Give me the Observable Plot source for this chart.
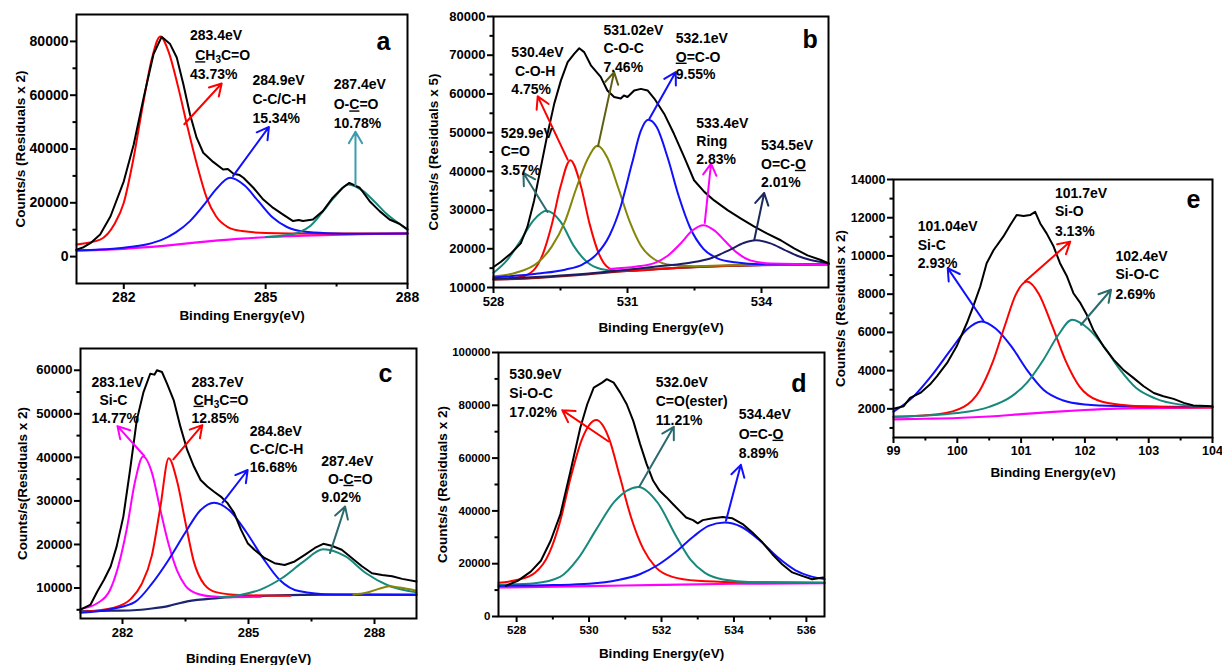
<!DOCTYPE html>
<html><head><meta charset="utf-8">
<script src="https://cdn.jsdelivr.net/npm/d3@7"></script>
<script src="https://cdn.jsdelivr.net/npm/@observablehq/plot@0.6"></script>
<style>
body{margin:0;background:#fff;}
#root{position:relative;width:1222px;height:665px;overflow:hidden;font-family:Arial,"Liberation Sans",sans-serif;}
.panel{position:absolute;}
</style></head><body><div id="root"></div>
<script>
// ================= DATA =================
const xTitle = "Binding Energy(eV)";

// ---- panel a (C 1s) ----
const aSpectrum = [[281.0,2600],[281.15,3500],[281.3,5100],[281.5,8200],[281.72,15000],[282.0,28000],[282.21,41700],[282.42,59100],[282.63,75300],[282.8,81700],[282.98,79000],[283.12,74000],[283.26,64100],[283.4,52900],[283.54,44200],[283.68,38600],[283.89,35200],[284.1,32400],[284.2,32600],[284.32,30800],[284.45,30300],[284.53,29300],[284.74,25600],[284.95,21200],[285.16,18100],[285.37,15600],[285.58,13200],[285.7,13600],[285.79,13200],[286.0,13800],[286.21,16900],[286.42,21900],[286.63,25600],[286.77,27400],[286.99,25600],[287.2,20600],[287.41,16900],[287.62,13800],[287.83,12200],[288.0,10100]];
const aBackground = [[281,2300],[281.5,2500],[282,2900],[282.5,3500],[283,4300],[283.5,5200],[284,6000],[284.5,6700],[285,7200],[285.5,7600],[286,7900],[287,8300],[288,8600]];
const aPeakCH3 = [[281.0,4500],[281.5,6300],[281.8,12000],[282.0,20000],[282.2,36000],[282.4,56000],[282.6,74000],[282.77,81800],[282.95,76000],[283.15,63000],[283.35,48000],[283.55,34000],[283.75,22000],[283.95,15000],[284.2,11000],[284.5,9500],[285.0,8800],[286.0,8600],[287.0,8600],[288.0,8600]];
const aPeakCC = [[281,2300],[281.5,2600],[282,3300],[282.5,4600],[282.8,6200],[283.1,9000],[283.4,13200],[283.7,19300],[283.95,25000],[284.25,29300],[284.55,26500],[284.85,20500],[285.15,14500],[285.45,11000],[285.8,9300],[286.3,8700],[287,8500],[288,8600]];
const aPeakOCO = [[285,7300],[285.4,7900],[285.7,9000],[285.95,11500],[286.2,16500],[286.45,22000],[286.75,26800],[287.05,24500],[287.3,20500],[287.55,16000],[287.8,12500],[288,10000]];
const aLabels = [["283.4eV","[C]H{3}C=O","43.73%"],["284.9eV","C-C/C-H","15.34%"],["287.4eV","O-[C]=O","10.78%"]];
const aXTicks = [282,285,288], aXMinor = [283.5,286.5];
const aYTicks = [0,20000,40000,60000,80000], aYMinor = [10000,30000,50000,70000];
const aYTitle = "Counts/s (Residuals x 2)";

// ---- panel b (O 1s) ----
const bSpectrum = [[528,15300],[528.16,16600],[528.39,18800],[528.61,21400],[528.76,25700],[528.91,32500],[529.06,41100],[529.21,49700],[529.36,57500],[529.51,63500],[529.66,68200],[529.81,70400],[529.92,71800],[530.03,70800],[530.18,67400],[530.4,64400],[530.55,60900],[530.7,59200],[530.85,58800],[530.92,59600],[531.0,59200],[531.15,60900],[531.3,61300],[531.45,60900],[531.6,58800],[531.82,54900],[532.04,49700],[532.27,43700],[532.49,37700],[532.72,34700],[532.94,32500],[533.24,30000],[533.54,27800],[533.84,25700],[534.13,23900],[534.43,22200],[534.73,20100],[535.03,18300],[535.33,17100],[535.5,16200]];
const bBackground = [[528,12000],[529,12500],[530,13300],[531,14300],[532,15000],[533,15500],[534,15800],[535.5,16000]];
const bPeakCO = [[528,13800],[528.3,17000],[528.6,22000],[528.9,27400],[529.19,29800],[529.5,27000],[529.8,20700],[530.1,16500],[530.4,14800],[530.8,14300],[531.5,14700],[532.5,15300],[533.5,15700],[535.5,16000]];
const bPeakCOH = [[528,12100],[528.6,12700],[528.9,14500],[529.1,18500],[529.3,26000],[529.5,36000],[529.72,42900],[529.95,36500],[530.15,26500],[530.35,19000],[530.55,15300],[530.8,14200],[531.2,14300],[532,15000],[533,15500],[535.5,16000]];
const bPeakCOC = [[528,12900],[528.5,13800],[529,16500],[529.3,20500],[529.6,27000],[529.85,35500],[530.1,43000],[530.33,46600],[530.55,43500],[530.8,35500],[531.05,27000],[531.3,20800],[531.6,17300],[532,15800],[532.5,15500],[533.5,15800],[535.5,16000]];
const bPeakOCO = [[528,12600],[529,13600],[529.6,14600],[530,16000],[530.3,18500],[530.6,23500],[530.85,31000],[531.1,42000],[531.3,50500],[531.46,53300],[531.65,51500],[531.9,43500],[532.15,33500],[532.4,25500],[532.7,20000],[533.0,17600],[533.4,16500],[534,16000],[535.5,16000]];
const bPeakRing = [[530.6,14800],[531.2,15400],[531.6,16300],[531.9,18200],[532.2,21500],[532.45,24700],[532.7,26100],[532.95,24700],[533.2,21800],[533.45,19000],[533.75,17000],[534.2,16200],[535.5,16000]];
const bPeakOCO2 = [[528,12200],[530,13500],[531,14600],[531.8,15600],[532.4,16400],[532.9,17700],[533.3,19800],[533.6,21500],[533.87,22200],[534.2,21400],[534.5,19800],[534.8,18200],[535.1,17100],[535.5,16300]];
const bLabels = [["529.9eV","C=O","3.57%"],["530.4eV","C-O-H","4.75%"],["531.02eV","C-O-C","7.46%"],["532.1eV","[O]=C-O","9.55%"],["533.4eV","Ring","2.83%"],["534.5eV","O=C-[O]","2.01%"]];
const bXTicks = [528,531,534], bXMinor = [529.5,532.5];
const bYTicks = [10000,20000,30000,40000,50000,60000,70000,80000], bYMinor = [15000,25000,35000,45000,55000,65000,75000];
const bYTitle = "Counts/s (Residuals x 5)";

// ---- panel c (C 1s) ----
const cSpectrum = [[281.0,5040],[281.24,6200],[281.4,9200],[281.56,11900],[281.72,15000],[281.86,19500],[282.02,26400],[282.18,37100],[282.34,48550],[282.5,55000],[282.66,59200],[282.76,59000],[282.82,60000],[282.94,59600],[283.06,56950],[283.22,53100],[283.38,47000],[283.54,41700],[283.7,37900],[283.86,34800],[284.02,33300],[284.18,32100],[284.34,31000],[284.5,29500],[284.66,27200],[284.82,23400],[284.98,20300],[285.14,18800],[285.38,16900],[285.62,15700],[285.86,15300],[286.1,16100],[286.34,17600],[286.58,19200],[286.78,20150],[286.98,19700],[287.22,18800],[287.46,16900],[287.7,15000],[287.94,13400],[288.18,13000],[288.42,12700],[288.66,12100],[289.0,11500]];
const cBackground = [[281,4660],[281.5,4750],[282.26,4900],[282.7,5300],[283.06,5800],[283.54,6950],[284.26,7700],[285.46,8250],[287.06,8500],[289,8500]];
const cPeakSiC = [[281,5200],[281.4,6500],[281.7,9500],[281.9,15000],[282.1,23500],[282.3,34500],[282.49,40200],[282.7,36500],[282.9,28000],[283.1,20000],[283.3,14000],[283.5,10500],[283.75,8800],[284.1,8100],[284.6,7900],[285.3,8000]];
const cPeakCH3 = [[281,4500],[281.8,5500],[282.2,7500],[282.45,10800],[282.7,17500],[282.9,28500],[283.1,39800],[283.3,34500],[283.5,25000],[283.7,16000],[283.95,10800],[284.25,9000],[284.8,8400],[286,8200]];
const cPeakCC = [[281,4300],[281.8,5300],[282.3,6800],[282.7,11000],[283.1,16500],[283.5,22800],[283.85,27800],[284.18,29600],[284.55,27800],[284.95,22800],[285.35,16800],[285.75,11800],[286.2,9300],[287,8500],[289,8400]];
const cPeakOCO = [[284.3,7900],[284.8,8400],[285.3,9700],[285.8,12300],[286.3,16000],[286.78,18900],[287.3,17300],[287.8,13400],[288.3,10700],[289,9000]];
const cPeakExtra = [[287.5,8500],[287.8,8900],[288.1,9800],[288.35,10400],[288.6,10100],[289,9400]];
const cLabels = [["283.1eV","Si-C","14.77%"],["283.7eV","[C]H{3}C=O","12.85%"],["284.8eV","C-C/C-H","16.68%"],["287.4eV","O-[C]=O","9.02%"]];
const cXTicks = [282,285,288], cXMinor = [283.5,286.5];
const cYTicks = [10000,20000,30000,40000,50000,60000], cYMinor = [5000,15000,25000,35000,45000,55000];
const cYTitle = "Counts/s(Residuals x 2)";

// ---- panel d (O 1s) ----
const dSpectrum = [[527.7,11600],[528.03,13500],[528.39,17000],[528.67,21100],[528.94,28700],[529.21,38800],[529.49,55200],[529.76,71600],[529.95,80400],[530.13,86700],[530.36,88600],[530.49,89900],[530.68,88600],[530.86,84800],[531.04,80400],[531.22,74100],[531.41,65300],[531.59,57700],[531.77,51400],[531.95,47600],[532.14,45100],[532.32,42500],[532.5,40000],[532.68,37500],[532.87,36500],[533.0,35300],[533.14,36500],[533.42,37200],[533.69,37700],[533.96,37200],[534.24,35000],[534.51,31800],[534.79,28000],[535.06,23600],[535.33,19800],[535.61,16700],[535.88,15400],[536.16,14100],[536.46,14800]];
const dBackground = [[527.5,11000],[530,11500],[532,12000],[534,12400],[536.5,12600]];
const dPeakSiOC = [[527.5,12800],[528,13800],[528.5,16500],[528.9,24000],[529.2,36000],[529.5,53000],[529.8,67000],[530.2,74400],[530.55,67500],[530.85,53000],[531.15,38000],[531.5,25500],[531.85,18500],[532.3,15000],[533,13500],[534,13000],[536.5,12800]];
const dPeakEster = [[527.5,12000],[528.5,12600],[529.2,15000],[529.7,22000],[530.2,33000],[530.7,43500],[531.36,49100],[531.9,43000],[532.4,30500],[532.8,21500],[533.2,16500],[533.7,14000],[534.5,13000],[536.5,12800]];
const dPeakOCO = [[527.5,11600],[529,11900],[530,12400],[530.8,13800],[531.4,16000],[531.9,19500],[532.4,24500],[532.9,30500],[533.3,34300],[533.74,35600],[534.2,34000],[534.7,29000],[535.2,22500],[535.7,17500],[536.1,15300],[536.5,14200]];
const dLabels = [["530.9eV","Si-O-C","17.02%"],["532.0eV","C=O(ester)","11.21%"],["534.4eV","O=C-[O]","8.89%"]];
const dXTicks = [528,530,532,534,536], dXMinor = [529,531,533,535];
const dYTicks = [0,20000,40000,60000,80000,100000], dYMinor = [10000,30000,50000,70000,90000];
const dYTitle = "Counts/s (Residuals x 2)";

// ---- panel e (Si 2p) ----
const eSpectrum = [[99.0,2000],[99.16,2140],[99.26,2570],[99.42,2830],[99.57,3270],[99.68,3700],[99.84,4400],[99.99,5270],[100.15,6490],[100.25,7360],[100.36,8400],[100.46,9620],[100.57,10310],[100.72,11010],[100.83,11620],[100.93,12140],[101.04,12090],[101.14,12140],[101.22,12310],[101.3,11700],[101.4,11180],[101.51,10490],[101.61,9620],[101.72,8920],[101.82,8050],[101.93,7530],[102.03,6920],[102.13,6140],[102.29,5270],[102.45,4570],[102.6,4050],[102.76,3620],[102.92,3180],[103.08,2830],[103.23,2660],[103.39,2520],[103.55,2310],[103.7,2170],[104.0,2140]];
const eBackground = [[99,1450],[99.5,1480],[100,1520],[100.5,1600],[101,1720],[101.5,1840],[102,1940],[102.5,2010],[103,2040],[104,2070]];
const ePeakSiC = [[99,1850],[99.3,2600],[99.6,3750],[99.9,5100],[100.15,6150],[100.38,6570],[100.6,6200],[100.85,5250],[101.1,4000],[101.35,3000],[101.65,2450],[102,2230],[102.5,2150],[104,2100]];
const ePeakSiO = [[99,1580],[99.7,1720],[100.1,2100],[100.35,2950],[100.55,4400],[100.75,6400],[100.92,8000],[101.09,8660],[101.28,8000],[101.48,6400],[101.7,4500],[101.92,3150],[102.2,2450],[102.6,2200],[103.2,2100],[104,2070]];
const ePeakSiOC = [[99,1580],[100,1780],[100.5,2100],[100.85,2650],[101.1,3400],[101.35,4570],[101.58,5850],[101.8,6660],[102.05,6200],[102.3,5250],[102.55,4050],[102.8,3100],[103.1,2550],[103.5,2220],[104,2100]];
const eLabels = [["101.04eV","Si-C","2.93%"],["101.7eV","Si-O","3.13%"],["102.4eV","Si-O-C","2.69%"]];
const eXTicks = [99,100,101,102,103,104], eXMinor = [99.5,100.5,101.5,102.5,103.5];
const eYTicks = [2000,4000,6000,8000,10000,12000,14000], eYMinor = [1000,3000,5000,7000,9000,11000,13000];
const eYTitle = "Counts/s (Residuals x 2)";

// ================= LAYOUT / STYLE =================
const RED = "#ff0000", BLUE = "#1010ff", MAG = "#ff00ff", TEAL = "#17897c", OLIVE = "#85850a", NAVY = "#1c1c66";
const panels = [
  { letter: "a", spectrum: aSpectrum, background: aBackground, bgColor: MAG,
    peaks: [aPeakCH3, aPeakCC, aPeakOCO], colors: [RED, BLUE, TEAL],
    labels: aLabels, xTicks: aXTicks, xMinor: aXMinor, yTicks: aYTicks, yMinor: aYMinor, yTitle: aYTitle,
    box: {left: 0, top: 0, width: 420, height: 325, ml: 76, mr: 13, mt: 14, mb: 42},
    xDomain: [281, 288], yDomain: [-10000, 90000], tickFont: 14, xTitleDy: 32, yTitleDx: -56,
    labelAt: [[[283.40,82130],[283.51,74670],[283.40,67590]], [[284.72,65350],[284.72,58270],[284.72,51440]], [[286.44,64120],[286.44,56400],[286.44,49430]]],
    arrows: [{x1:283.28,y1:49210,x2:284.07,y2:64350,c:RED},{x1:284.31,y1:29940,x2:285.07,y2:48200,c:BLUE},{x1:286.90,y1:26470,x2:286.90,y2:46450,c:"#3a9cae"}],
    letterAt: [287.49, 79630] },
  { letter: "b", spectrum: bSpectrum, background: bBackground, bgColor: "#8a1515",
    peaks: [bPeakCO, bPeakCOH, bPeakCOC, bPeakOCO, bPeakRing, bPeakOCO2], colors: [TEAL, RED, OLIVE, BLUE, MAG, NAVY],
    labels: bLabels, xTicks: bXTicks, xMinor: bXMinor, yTicks: bYTicks, yMinor: bYMinor, yTitle: bYTitle,
    box: {left: 420, top: 0, width: 420, height: 340, ml: 73, mr: 12, mt: 16, mb: 53},
    xDomain: [528, 535.5], yDomain: [10000, 80000], tickFont: 13, xTitleDy: 40, yTitleDx: -60,
    labelAt: [[[528.16,49730],[528.16,45000],[528.16,40270]], [[528.40,70630],[528.48,65810],[528.40,61080]], [[530.46,76390],[530.46,71660],[530.46,66930]], [[532.08,74410],[532.08,69510],[532.08,64950]], [[532.54,52480],[532.54,47750],[532.54,43020]], [[533.99,46550],[533.99,41820],[533.99,37090]]],
    arrows: [{x1:529.21,y1:29520,x2:528.67,y2:39580,c:"#2b6a6e"},{x1:529.66,y1:43020,x2:528.99,y2:59360,c:RED},{x1:530.34,y1:46460,x2:530.70,y2:65640,c:"#5e5e12"},{x1:531.49,y1:53600,x2:532.08,y2:65640,c:BLUE},{x1:532.73,y1:26680,x2:532.87,y2:41990,c:MAG},{x1:533.84,y1:22380,x2:534.06,y2:34420,c:"#1a2a5a"}],
    letterAt: [535.09, 73980] },
  { letter: "c", spectrum: cSpectrum, background: cBackground, bgColor: "#1a2470",
    peaks: [cPeakSiC, cPeakCH3, cPeakCC, cPeakOCO, cPeakExtra], colors: [MAG, RED, BLUE, TEAL, OLIVE],
    labels: cLabels, xTicks: cXTicks, xMinor: cXMinor, yTicks: cYTicks, yMinor: cYMinor, yTitle: cYTitle,
    box: {left: 0, top: 325, width: 420, height: 340, ml: 80, mr: 4, mt: 23, mb: 47},
    xDomain: [281, 289], yDomain: [3000, 65000], tickFont: 13, xTitleDy: 40, yTitleDx: -58,
    labelAt: [[[281.26,57100],[281.45,53130],[281.26,48860]], [[283.64,57250],[283.69,53130],[283.64,48930]], [[285.03,46030],[285.03,41830],[285.03,37630]], [[286.73,39160],[286.89,34960],[286.73,30840]]],
    arrows: [{x1:282.52,y1:40310,x2:281.88,y2:47180,c:MAG},{x1:283.21,y1:39540,x2:283.90,y2:47410,c:RED},{x1:284.38,y1:29620,x2:284.98,y2:37100,c:BLUE},{x1:286.94,y1:18020,x2:287.30,y2:28700,c:"#2b6a6e"}],
    letterAt: [288.26, 59240] },
  { letter: "d", spectrum: dSpectrum, background: dBackground, bgColor: MAG,
    peaks: [dPeakSiOC, dPeakEster, dPeakOCO], colors: [RED, TEAL, BLUE],
    labels: dLabels, xTicks: dXTicks, xMinor: dXMinor, yTicks: dYTicks, yMinor: dYMinor, yTitle: dYTitle,
    box: {left: 420, top: 340, width: 420, height: 325, ml: 78, mr: 16, mt: 12, mb: 49},
    xDomain: [527.5, 536.5], yDomain: [0, 100000], tickFont: 11.5, xTitleDy: 37, yTitleDx: -56,
    labelAt: [[[527.80,91790],[527.80,84470],[527.80,77270]], [[531.84,88630],[531.84,81310],[531.84,74110]], [[534.13,76390],[534.13,69060],[534.13,61870]]],
    arrows: [{x1:530.54,y1:66290,x2:529.26,y2:78150,c:RED},{x1:531.39,y1:49240,x2:532.34,y2:71840,c:"#2b6a6e"},{x1:533.78,y1:36240,x2:534.19,y2:57450,c:BLUE}],
    letterAt: [535.79, 88000] },
  { letter: "e", spectrum: eSpectrum, background: eBackground, bgColor: MAG,
    peaks: [ePeakSiC, ePeakSiO, ePeakSiOC], colors: [BLUE, RED, TEAL],
    labels: eLabels, xTicks: eXTicks, xMinor: eXMinor, yTicks: eYTicks, yMinor: eYMinor, yTitle: eYTitle,
    box: {left: 825, top: 140, width: 397, height: 340, ml: 68, mr: 10, mt: 39, mb: 43},
    xDomain: [99, 104], yDomain: [500, 14000], tickFont: 12.5, xTitleDy: 35, yTitleDx: -53,
    labelAt: [[[99.38,11530],[99.38,10570],[99.38,9580]], [[101.53,13270],[101.53,12310],[101.53,11300]], [[102.48,9960],[102.48,9010],[102.48,8000]]],
    arrows: [{x1:100.41,y1:6610,x2:99.85,y2:9360,c:BLUE},{x1:101.06,y1:8660,x2:101.77,y2:10750,c:RED},{x1:101.94,y1:6400,x2:102.41,y2:8230,c:"#2b6a6e"}],
    letterAt: [103.70, 12920] }
];

// ================= RENDER =================
const FONT = 'Arial, "Liberation Sans", sans-serif';
const SVGNS = "http://www.w3.org/2000/svg";

// "[X]" -> underlined X, "{n}" -> subscript n
function applyMarkup(el) {
  const s = el.textContent;
  if (!/[\[{]/.test(s)) return;
  el.textContent = "";
  const re = /\[([^\]]+)\]|\{([^}]+)\}|([^\[{]+)/g;
  let m, shifted = false;
  while ((m = re.exec(s))) {
    const ts = document.createElementNS(SVGNS, "tspan");
    if (m[2]) {
      ts.textContent = m[2];
      ts.setAttribute("font-size", "10");
      ts.setAttribute("dy", "3");
      shifted = true;
    } else {
      ts.textContent = m[1] || m[3];
      if (m[1]) ts.style.textDecoration = "underline";
      if (shifted) { ts.setAttribute("dy", "-3"); shifted = false; }
    }
    el.appendChild(ts);
  }
}

const root = document.getElementById("root");
for (const p of panels) {
  const lineMark = (data, color, w, curve) => Plot.line(data, {x: d => d[0], y: d => d[1], stroke: color, strokeWidth: w, curve});
  const marks = [];
  marks.push(lineMark(p.background, p.bgColor, 2.2, "monotone-x"));
  p.peaks.forEach((pk, i) => marks.push(lineMark(pk, p.colors[i], 2, "monotone-x")));
  marks.push(lineMark(p.spectrum, "black", 2, "linear"));
  for (const a of p.arrows) {
    marks.push(Plot.arrow([a], {x1: "x1", y1: "y1", x2: "x2", y2: "y2", stroke: a.c, strokeWidth: 2, headLength: 10}));
  }
  const rows = [];
  p.labels.forEach((grp, g) => grp.forEach((t, k) => rows.push({x: p.labelAt[g][k][0], y: p.labelAt[g][k][1], text: t})));
  marks.push(Plot.text(rows, {x: "x", y: "y", text: "text", textAnchor: "start", fontSize: 14, fontWeight: "bold", fill: "black"}));
  marks.push(Plot.text([p.letter], {x: p.letterAt[0], y: p.letterAt[1], text: d => d, fontSize: 25, fontWeight: "bold", fill: "black"}));
  marks.push(Plot.axisX(p.xTicks, {tickSize: 6, tickPadding: 3, strokeWidth: 2, fontSize: p.tickFont, fontWeight: "bold", tickFormat: d => String(d), label: null}));
  marks.push(Plot.axisX(p.xMinor, {tickSize: 3.5, strokeWidth: 2, tickFormat: () => "", label: null}));
  marks.push(Plot.axisY(p.yTicks, {tickSize: 6, tickPadding: 2, strokeWidth: 2, fontSize: p.tickFont, fontWeight: "bold", tickFormat: d3.format("d"), label: null}));
  marks.push(Plot.axisY(p.yMinor, {tickSize: 3.5, strokeWidth: 2, tickFormat: () => "", label: null}));
  marks.push(Plot.text([xTitle], {frameAnchor: "bottom", dy: p.xTitleDy, textAnchor: "middle", lineAnchor: "middle", text: d => d, fontSize: 13.5, fontWeight: "bold", fill: "black"}));
  marks.push(Plot.text([p.yTitle], {frameAnchor: "left", dx: p.yTitleDx, rotate: -90, textAnchor: "middle", lineAnchor: "middle", text: d => d, fontSize: 13.5, fontWeight: "bold", fill: "black"}));
  marks.push(Plot.frame({stroke: "black", strokeWidth: 2}));
  const b = p.box;
  const svg = Plot.plot({
    width: b.width, height: b.height,
    marginLeft: b.ml, marginRight: b.mr, marginTop: b.mt, marginBottom: b.mb,
    x: {domain: p.xDomain, label: null},
    y: {domain: p.yDomain, label: null},
    style: {background: "transparent", overflow: "visible", fontFamily: FONT, fontWeight: "bold", color: "black", fontSize: p.tickFont + "px"},
    marks
  });
  d3.select(svg).selectAll("g[aria-label=text] text").each(function() { applyMarkup(this); });
  const div = document.createElement("div");
  div.className = "panel";
  div.style.left = b.left + "px"; div.style.top = b.top + "px";
  div.appendChild(svg);
  root.appendChild(div);
}
</script>
</body></html>
